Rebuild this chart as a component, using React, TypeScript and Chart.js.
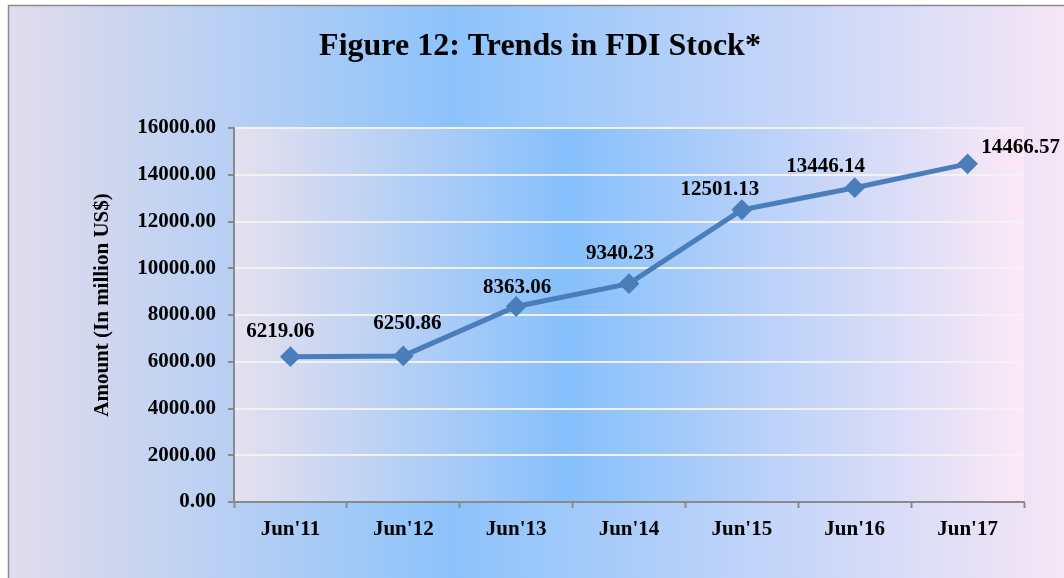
import React, { useEffect, useRef } from "react";
import { Chart, registerables } from "chart.js";

Chart.register(...registerables);

const categories = ["Jun'11", "Jun'12", "Jun'13", "Jun'14", "Jun'15", "Jun'16", "Jun'17"];
const fdiStock = [6219.06, 6250.86, 8363.06, 9340.23, 12501.13, 13446.14, 14466.57];
const yTickMin = 0;
const yTickMax = 16000;
const yTickStep = 2000;
const chartTitle = "Figure 12: Trends in FDI Stock*";
const yAxisTitle = "Amount (In million US$)";
// label nudges relative to each point (manually placed labels in the original)
const labelNudge: [number, number][] = [
  [-10, -20],
  [4, -27],
  [1, -14],
  [-9, -25],
  [-22, -15],
  [-29, -16],
  [53, -11],
];

const FONT = '"Liberation Serif", "Times New Roman", serif';

export default function App() {
  const canvasRef = useRef<HTMLCanvasElement | null>(null);

  useEffect(() => {
    const canvas = canvasRef.current;
    if (!canvas) return;

    const bgPlugin = {
      id: "bgPlugin",
      beforeDraw(chart: any) {
        const ctx = chart.ctx;
        const W = chart.width;
        const H = chart.height;
        ctx.save();
        ctx.fillStyle = "#ffffff";
        ctx.fillRect(0, 0, W, H);
        const g = ctx.createLinearGradient(8, 0, 1072, 0);
        g.addColorStop(0, "#e2dcec");
        g.addColorStop(0.42, "#8cc3fb");
        g.addColorStop(1, "#f7e6f6");
        ctx.fillStyle = g;
        ctx.fillRect(8, 5, 1064, 600);
        ctx.strokeStyle = "#8a8a8a";
        ctx.lineWidth = 1.5;
        ctx.strokeRect(8.5, 5.5, 1064, 600);
        const a = chart.chartArea;
        const g2 = ctx.createLinearGradient(a.left, 0, a.right, 0);
        g2.addColorStop(0, "#e6e0ee");
        g2.addColorStop(0.42, "#86c0fc");
        g2.addColorStop(1, "#fce8f6");
        ctx.fillStyle = g2;
        ctx.fillRect(a.left, a.top, a.right - a.left, a.bottom - a.top);
        // title
        ctx.fillStyle = "#000";
        ctx.font = `bold 32px ${FONT}`;
        ctx.textAlign = "center";
        ctx.textBaseline = "alphabetic";
        ctx.fillText(chartTitle, 540, 55);
        // y axis title
        ctx.translate(103, 305);
        ctx.rotate(-Math.PI / 2);
        ctx.font = `bold 21px ${FONT}`;
        ctx.textBaseline = "middle";
        ctx.fillText(yAxisTitle, 0, 0);
        ctx.restore();
      },
    };

    const labelPlugin = {
      id: "labelPlugin",
      afterDatasetsDraw(chart: any) {
        const ctx = chart.ctx;
        const meta = chart.getDatasetMeta(0);
        ctx.save();
        ctx.fillStyle = "#000";
        ctx.font = `bold 21px ${FONT}`;
        ctx.textAlign = "center";
        ctx.textBaseline = "alphabetic";
        meta.data.forEach((pt: any, i: number) => {
          const [dx, dy] = labelNudge[i] || [0, -15];
          ctx.fillText(fdiStock[i].toFixed(2), pt.x + dx, pt.y + dy);
        });
        ctx.restore();
      },
    };

    const chart = new Chart(canvas, {
      type: "line",
      data: {
        labels: categories,
        datasets: [
          {
            data: fdiStock,
            borderColor: "#4a7ebb",
            backgroundColor: "#4a7ebb",
            borderWidth: 5,
            pointStyle: "rectRot",
            pointRadius: 9,
            pointBorderWidth: 2,
            pointBorderColor: "#4a7ebb",
            pointBackgroundColor: "#4a7ebb",
            tension: 0,
            clip: false as any,
          },
        ],
      },
      options: {
        animation: false,
        responsive: false,
        layout: { padding: { top: 128, right: 40, bottom: 0, left: 0 } },
        plugins: {
          legend: { display: false },
          title: { display: false },
          tooltip: { enabled: false },
        },
        scales: {
          x: {
            type: "category",
            offset: true,
            grid: {
              display: true,
              offset: true,
              drawOnChartArea: false,
              drawTicks: true,
              tickLength: 6,
              tickColor: "#8a8a8a",
              tickWidth: 2,
            },
            border: { display: true, color: "#8a8a8a", width: 2 },
            ticks: {
              color: "#000",
              font: { family: FONT, size: 21, weight: "bold" },
              padding: 9,
              maxRotation: 0,
              autoSkip: false,
            },
            afterFit(scale: any) {
              scale.height = 76;
            },
          },
          y: {
            min: yTickMin,
            max: yTickMax,
            grid: {
              color: (ctx: any) => (ctx.tick && ctx.tick.value === 0 ? "rgba(0,0,0,0)" : "#f2f2f2"),
              lineWidth: 2,
              drawTicks: true,
              tickLength: 6,
              tickColor: "#8a8a8a",
              tickWidth: 2,
            },
            border: { display: true, color: "#8a8a8a", width: 2 },
            ticks: {
              stepSize: yTickStep,
              color: "#000",
              font: { family: FONT, size: 21, weight: "bold" },
              padding: 12,
              callback: (v: any) => Number(v).toFixed(2),
            },
            afterFit(scale: any) {
              scale.width = 234;
            },
          },
        },
      },
      plugins: [bgPlugin, labelPlugin],
    });

    return () => {
      chart.destroy();
    };
  }, []);

  return (
    <div style={{ position: "fixed", left: 0, top: 0, width: 1064, height: 578 }}>
      <canvas ref={canvasRef} width={1064} height={578} style={{ display: "block", width: 1064, height: 578 }} />
    </div>
  );
}
